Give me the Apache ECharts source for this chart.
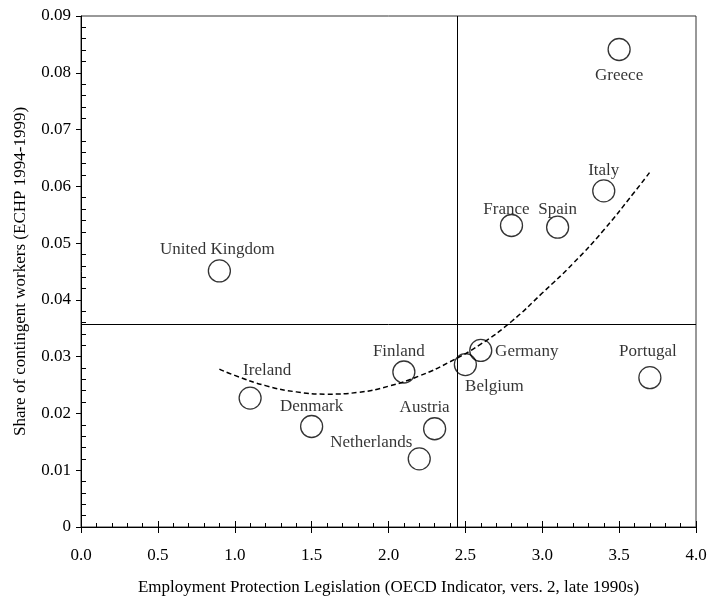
<!DOCTYPE html>
<html>
<head>
<meta charset="utf-8">
<script src="https://cdn.jsdelivr.net/npm/echarts@6/dist/echarts.min.js"></script>
<style>
    html, body { margin: 0; padding: 0; background: #fff; }
    #chart { width: 710px; height: 596px; }
</style>
</head>
<body>
<div id="chart"></div>
<script>
// countries and their values (EPL indicator, share of contingent workers)
var countries = ["Greece", "Italy", "France", "Spain", "United Kingdom", "Ireland", "Denmark",
    "Finland", "Germany", "Belgium", "Portugal", "Austria", "Netherlands"];
var eplValues = [3.5, 3.4, 2.8, 3.1, 0.9, 1.1, 1.5, 2.1, 2.6, 2.5, 3.7, 2.3, 2.2];
var shareValues = [0.0841, 0.0592, 0.0531, 0.0528, 0.0451, 0.0227, 0.0177,
    0.0273, 0.0311, 0.0286, 0.0263, 0.0173, 0.0120];

// fitted curve
var fitX = [0.9, 1.0, 1.2, 1.4, 1.6, 1.8, 2.0, 2.2, 2.4, 2.6, 2.8, 3.0, 3.2, 3.4, 3.6, 3.7];
var fitY = [0.0278, 0.0267, 0.0249, 0.0238, 0.0234, 0.0237, 0.0248, 0.0266,
    0.0291, 0.0322, 0.0362, 0.0412, 0.0464, 0.0523, 0.0590, 0.0625];

// reference lines (means)
var meanEpl = 2.45;
var meanShare = 0.0357;

// label placement around each circle
var labelOffset = {
    "Greece": [0, 26],
    "Italy": [0, -20],
    "France": [-5, -16],
    "Spain": [0, -18],
    "United Kingdom": [-2, -21],
    "Ireland": [17, -28],
    "Denmark": [0, -20],
    "Finland": [-5, -20],
    "Germany": [46, 1],
    "Belgium": [29, 22],
    "Portugal": [-2, -26],
    "Austria": [-10, -21],
    "Netherlands": [-48, -16]
};

var font = "Liberation Serif";
var fontSize = 17;

var points = [];
for (var i = 0; i < countries.length; i++) {
    points.push({
        name: countries[i],
        value: [eplValues[i], shareValues[i]],
        label: {offset: labelOffset[countries[i]]}
    });
}
var curve = [];
for (var j = 0; j < fitX.length; j++) {
    curve.push([fitX[j], fitY[j]]);
}

var chart = echarts.init(document.getElementById("chart"));
var option = {
    animation: false,
    grid: {
        left: 81, right: 14, top: 16, bottom: 69,
        outerBoundsMode: "none",
        show: true, borderColor: "#333", borderWidth: 1
    },
    xAxis: [{
        type: "value",
        min: 0, max: 4, interval: 0.5,
        name: "Employment Protection Legislation (OECD Indicator, vers. 2, late 1990s)",
        nameLocation: "middle",
        nameGap: 52,
        nameTextStyle: {fontFamily: font, fontSize: fontSize, color: "#000"},
        axisLine: {lineStyle: {color: "#000", width: 1}},
        axisTick: {show: true, length: 6, lineStyle: {color: "#000"}},
        axisLabel: {
            fontFamily: font, fontSize: fontSize, color: "#000", margin: 20,
            formatter: function (v) { return v.toFixed(1); }
        },
        splitLine: {show: false}
    }, {
        type: "value",
        position: "bottom",
        min: 0, max: 4, interval: 0.5,
        axisLine: {show: false},
        axisTick: {show: true, inside: true, length: 6, lineStyle: {color: "#000"}},
        minorTick: {show: true, splitNumber: 5, length: 4, lineStyle: {color: "#000"}},
        axisLabel: {show: false},
        splitLine: {show: false}
    }],
    yAxis: [{
        type: "value",
        min: 0, max: 0.09, interval: 0.01,
        name: "Share of contingent workers (ECHP 1994-1999)",
        nameLocation: "middle",
        nameGap: 52,
        nameTextStyle: {fontFamily: font, fontSize: fontSize, color: "#000"},
        axisLine: {show: true, lineStyle: {color: "#000", width: 1}},
        axisTick: {show: true, length: 5, lineStyle: {color: "#000"}},
        axisLabel: {
            fontFamily: font, fontSize: fontSize, color: "#000", margin: 10,
            formatter: function (v) { return v === 0 ? "0" : v.toFixed(2); }
        },
        splitLine: {show: false}
    }, {
        type: "value",
        position: "left",
        min: 0, max: 0.09, interval: 0.01,
        axisLine: {show: false},
        axisTick: {show: false, inside: true},
        minorTick: {show: true, splitNumber: 5, length: 5, lineStyle: {color: "#000"}},
        axisLabel: {show: false},
        splitLine: {show: false}
    }],
    series: [{
        type: "line",
        data: curve,
        smooth: true,
        showSymbol: false,
        silent: true,
        lineStyle: {color: "#000", width: 1.5, type: [5, 3]},
        z: 2
    }, {
        type: "scatter",
        data: points,
        symbol: "circle",
        symbolSize: 22,
        itemStyle: {color: "rgba(255,255,255,0)", borderColor: "#000", borderWidth: 1.3},
        label: {
            show: true,
            position: "inside",
            formatter: "{b}",
            fontFamily: font,
            fontSize: fontSize,
            color: "#000"
        },
        markLine: {
            silent: true,
            precision: 4,
            symbol: ["none", "none"],
            label: {show: false},
            lineStyle: {color: "#000", width: 1, type: "solid"},
            data: [{xAxis: meanEpl}, {yAxis: meanShare}]
        },
        z: 3
    }]
};
chart.setOption(option);
</script>
</body>
</html>
